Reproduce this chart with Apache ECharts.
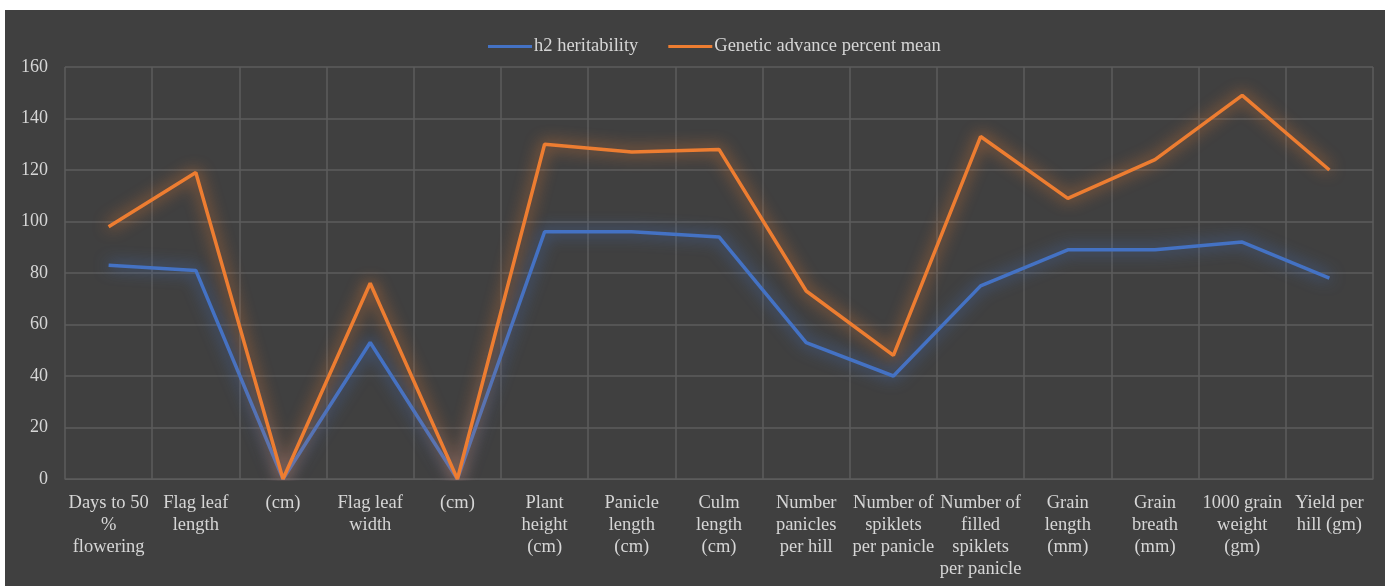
<!DOCTYPE html>
<html>
<head>
<meta charset="utf-8">
<script src="https://cdn.jsdelivr.net/npm/echarts@6/dist/echarts.min.js"></script>
<style>
  html, body { margin: 0; padding: 0; background: #ffffff; }
  #chart {
    position: absolute; left: 5px; top: 10px;
    width: 1380px; height: 576px; background: #404040;
  }
</style>
</head>
<body>
<div id="chart"></div>
<script>
// Traits measured (category axis labels, wrapped as printed)
const traits = [
  'Days to 50\n%\nflowering',
  'Flag leaf\nlength',
  '(cm)',
  'Flag leaf\nwidth',
  '(cm)',
  'Plant\nheight\n(cm)',
  'Panicle\nlength\n(cm)',
  'Culm\nlength\n(cm)',
  'Number\npanicles\nper hill',
  'Number of\nspiklets\nper panicle',
  'Number of\nfilled\nspiklets\nper panicle',
  'Grain\nlength\n(mm)',
  'Grain\nbreath\n(mm)',
  '1000 grain\nweight\n(gm)',
  'Yield per\nhill (gm)'
];

// Broad-sense heritability (%)
const heritability = [83, 81, 0, 53, 0, 96, 96, 94, 53, 40, 75, 89, 89, 92, 78];

// Genetic advance as percent of mean
const geneticAdvance = [98, 119, 0, 76, 0, 130, 127, 128, 73, 48, 133, 109, 124, 149, 120];

const seriesNames = ['h2 heritability', 'Genetic advance percent mean'];
const yTicks = { min: 0, max: 160, interval: 20 };

const BLUE = '#4472c4';
const ORANGE = '#ed7d31';
const TEXT = '#d6d6d6';
const GRID = '#5c5c5c';
const FONT = '"Liberation Serif", "Times New Roman", serif';

const chart = echarts.init(document.getElementById('chart'), null, { renderer: 'canvas' });

function glowLine(name, data, color) {
  return {
    name: name,
    type: 'line',
    data: data,
    showSymbol: false,
    symbol: 'none',
    smooth: false,
    lineStyle: {
      color: color,
      width: 3.5,
      shadowColor: color,
      shadowBlur: 16
    },
    itemStyle: { color: color },
    emphasis: { disabled: true },
    animation: false
  };
}

chart.setOption({
  backgroundColor: 'transparent',
  animation: false,
  textStyle: { fontFamily: FONT },
  legend: {
    top: 22,
    left: 478,
    icon: 'rect',
    itemWidth: 44,
    itemHeight: 3,
    itemGap: 30,
    data: seriesNames,
    textStyle: { color: TEXT, fontSize: 18.5, fontFamily: FONT, padding: [0, 0, 0, -3] }
  },
  grid: { left: 60, right: 12, top: 57, bottom: 107, containLabel: false },
  xAxis: {
    type: 'category',
    data: traits,
    boundaryGap: true,
    axisLine: { show: true, lineStyle: { color: GRID, width: 1 } },
    axisTick: { show: false },
    splitLine: { show: true, interval: 0, lineStyle: { color: GRID, width: 1.5 } },
    axisLabel: {
      interval: 0,
      color: TEXT,
      fontSize: 18.5,
      fontFamily: FONT,
      lineHeight: 22,
      margin: 13,
      align: 'center'
    }
  },
  yAxis: {
    type: 'value',
    min: yTicks.min,
    max: yTicks.max,
    interval: yTicks.interval,
    axisLine: { show: false },
    axisTick: { show: false },
    splitLine: { show: true, lineStyle: { color: GRID, width: 1.5 } },
    axisLabel: {
      color: TEXT,
      fontSize: 18,
      fontFamily: FONT,
      margin: 17
    }
  },
  series: [
    glowLine(seriesNames[0], heritability, BLUE),
    glowLine(seriesNames[1], geneticAdvance, ORANGE)
  ]
});
</script>
</body>
</html>
